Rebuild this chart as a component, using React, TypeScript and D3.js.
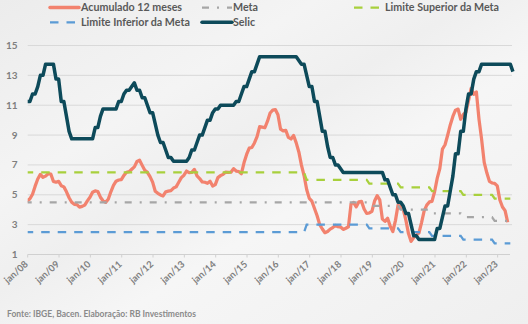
import React from "react";
import * as d3 from "d3";

const W = 528;
const H = 324;

// IPCA acumulado 12 meses, monthly from jan/2008 to jun/2023
const ipca12m = [
  4.56, 4.61, 4.73, 5.04, 5.58, 6.06, 6.37, 6.17, 6.25, 6.41, 6.39, 5.9,
  5.84, 5.9, 5.61, 5.53, 5.2, 4.8, 4.5, 4.36, 4.34, 4.17, 4.22, 4.31,
  4.59, 4.83, 5.17, 5.26, 5.22, 4.84, 4.6, 4.49, 4.7, 5.2, 5.63, 5.91,
  5.99, 6.01, 6.3, 6.51, 6.55, 6.71, 6.87, 7.23, 7.31, 6.97, 6.64, 6.5,
  6.22, 5.85, 5.24, 5.1, 4.99, 4.92, 5.2, 5.24, 5.28, 5.45, 5.53, 5.84,
  6.15, 6.31, 6.59, 6.49, 6.5, 6.7, 6.27, 6.09, 5.86, 5.84, 5.77, 5.91,
  5.59, 5.68, 6.15, 6.28, 6.37, 6.52, 6.5, 6.51, 6.75, 6.59, 6.56, 6.41,
  7.14, 7.7, 8.13, 8.17, 8.47, 8.89, 9.56, 9.53, 9.49, 9.93, 10.48, 10.67,
  10.71, 10.36, 9.39, 9.28, 9.32, 8.84, 8.74, 8.97, 8.48, 7.87, 6.99, 6.29,
  5.35, 4.76, 4.57, 4.08, 3.6, 3.0, 2.71, 2.46, 2.54, 2.7, 2.8, 2.95,
  2.86, 2.84, 2.68, 2.76, 2.86, 4.39, 4.48, 4.19, 4.53, 4.56, 4.05, 3.75,
  3.78, 3.89, 4.58, 4.94, 4.66, 3.37, 3.22, 3.43, 2.89, 2.54, 3.27, 4.31,
  4.19, 4.01, 3.3, 2.4, 1.88, 2.13, 2.31, 2.44, 3.14, 3.92, 4.31, 4.52,
  4.56, 5.2, 6.1, 6.76, 8.06, 8.35, 8.99, 9.68, 10.25, 10.67, 10.74, 10.06,
  10.38, 10.54, 11.3, 12.13, 11.73, 11.89, 10.07, 8.73, 7.17, 6.47, 5.9, 5.79,
  5.77, 5.6, 4.65, 4.18, 3.94, 3.16,
];

// Selic, monthly from jan/2008 to ago/2023
const selic = [
  11.25, 11.25, 11.25, 11.75, 11.75, 12.25, 13.0, 13.0, 13.75, 13.75, 13.75, 13.75,
  12.75, 12.75, 11.25, 11.25, 10.25, 9.25, 8.75, 8.75, 8.75, 8.75, 8.75, 8.75,
  8.75, 8.75, 8.75, 9.5, 9.5, 10.25, 10.75, 10.75, 10.75, 10.75, 10.75, 10.75,
  11.25, 11.25, 11.75, 12.0, 12.0, 12.25, 12.5, 12.0, 12.0, 11.5, 11.5, 11.0,
  10.5, 10.5, 9.75, 9.0, 8.5, 8.5, 8.0, 7.5, 7.5, 7.25, 7.25, 7.25,
  7.25, 7.25, 7.25, 7.5, 8.0, 8.0, 8.5, 9.0, 9.0, 9.5, 10.0, 10.0,
  10.5, 10.75, 10.75, 11.0, 11.0, 11.0, 11.0, 11.0, 11.0, 11.25, 11.25, 11.75,
  12.25, 12.25, 12.75, 13.25, 13.25, 13.75, 14.25, 14.25, 14.25, 14.25, 14.25, 14.25,
  14.25, 14.25, 14.25, 14.25, 14.25, 14.25, 14.25, 14.25, 14.25, 14.0, 13.75, 13.75,
  13.0, 12.25, 12.25, 11.25, 11.25, 10.25, 9.25, 9.25, 8.25, 7.5, 7.5, 7.0,
  7.0, 6.75, 6.5, 6.5, 6.5, 6.5, 6.5, 6.5, 6.5, 6.5, 6.5, 6.5,
  6.5, 6.5, 6.5, 6.5, 6.5, 6.5, 6.0, 6.0, 5.5, 5.0, 5.0, 4.5,
  4.5, 4.25, 3.75, 3.75, 3.0, 2.25, 2.25, 2.0, 2.0, 2.0, 2.0, 2.0,
  2.0, 2.0, 2.75, 2.75, 3.5, 4.25, 4.25, 5.25, 6.25, 7.75, 7.75, 9.25,
  9.25, 10.75, 11.75, 11.75, 12.75, 13.25, 13.25, 13.75, 13.75, 13.75, 13.75, 13.75,
  13.75, 13.75, 13.75, 13.75, 13.75, 13.75, 13.75, 13.25,
];

// Inflation targets by year
const targetYears = [2008, 2009, 2010, 2011, 2012, 2013, 2014, 2015, 2016, 2017, 2018, 2019, 2020, 2021, 2022, 2023];
const metaCentral = [4.5, 4.5, 4.5, 4.5, 4.5, 4.5, 4.5, 4.5, 4.5, 4.5, 4.5, 4.25, 4.0, 3.75, 3.5, 3.25];
const metaUpper = [6.5, 6.5, 6.5, 6.5, 6.5, 6.5, 6.5, 6.5, 6.5, 6.0, 6.0, 5.75, 5.5, 5.25, 5.0, 4.75];
const metaLower = [2.5, 2.5, 2.5, 2.5, 2.5, 2.5, 2.5, 2.5, 2.5, 3.0, 3.0, 2.75, 2.5, 2.25, 2.0, 1.75];

const yTicks = [1, 3, 5, 7, 9, 11, 13, 15];
const xTickLabels = ["jan/08", "jan/09", "jan/10", "jan/11", "jan/12", "jan/13", "jan/14", "jan/15", "jan/16", "jan/17", "jan/18", "jan/19", "jan/20", "jan/21", "jan/22", "jan/23"];

const C_IPCA = "#F2826E";
const C_SELIC = "#0D4A5A";
const C_META = "#A6A6A6";
const C_UP = "#A8D03C";
const C_LOW = "#5B9BD5";
const FONT = "Lato, 'Open Sans', sans-serif";

export default function App() {
  const plotLeft = 27.7;
  const plotRight = 512;
  const monthW = 2.6108;
  const x0 = 24.7;
  const x = d3.scaleLinear().domain([0, 1]).range([x0, x0 + monthW]);
  const y = d3.scaleLinear().domain([1, 15]).range([254.5, 45.5]);
  const tickShift = (plotLeft - x0) / monthW;

  const line = d3
    .line<number>()
    .x((_, i) => x(i))
    .y((d) => y(d))
    .curve(d3.curveLinear);

  const endIdx = 186;
  // each yearly target held from january to december; Dec->Jan drawn as a one-month slope like the monthly source
  const targetLine = (vals: number[]) => {
    const pts: [number, number][] = [];
    targetYears.forEach((yr, i) => {
      const m0 = (yr - targetYears[0]) * 12;
      const m1 = Math.min(m0 + 11, endIdx);
      pts.push([m0, vals[i]]);
      pts.push([i === targetYears.length - 1 ? endIdx : m1, vals[i]]);
    });
    return d3
      .line<[number, number]>()
      .x((d) => x(d[0]))
      .y((d) => y(d[1]))(pts) as string;
  };

  const metaDash = "7,8,2,8";
  const limDash = "8.5,8";

  return (
    <svg width={W} height={H} style={{ position: "absolute", left: 0, top: 0 }} fontFamily={FONT}>
      <defs>
        <linearGradient id="bg" x1="0" y1="0" x2="1" y2="1">
          <stop offset="0" stopColor="#ececec" />
          <stop offset="0.3" stopColor="#f4f4f4" />
          <stop offset="0.45" stopColor="#efefef" />
          <stop offset="0.6" stopColor="#f6f6f6" />
          <stop offset="1" stopColor="#efefef" />
        </linearGradient>
        <clipPath id="plotClip">
          <rect x={plotLeft} y={30} width={plotRight - plotLeft + 4} height={240} />
        </clipPath>
      </defs>
      <rect x={0} y={0} width={W} height={H} fill="url(#bg)" />

      {/* gridlines */}
      {yTicks.map((t) => (
        <line
          key={t}
          x1={plotLeft}
          x2={t === 1 ? 510 : plotRight}
          y1={y(t)}
          y2={y(t)}
          stroke={t === 1 ? "#d0d0d0" : "#d9d9d9"}
          strokeWidth={1}
        />
      ))}
      {xTickLabels.map((lab, k) => {
        const tx = x(12 * k + tickShift);
        return <line key={lab} x1={tx} x2={tx} y1={y(1)} y2={y(1) + 3} stroke="#d0d0d0" strokeWidth={1} />;
      })}

      {/* y labels */}
      {yTicks.map((t) => (
        <text key={t} x={17.5} y={y(t)} dy="0.35em" textAnchor="end" fontSize={10} fontWeight={700} fill="#7f7f7f">
          {t}
        </text>
      ))}

      {/* x labels */}
      {xTickLabels.map((lab, k) => {
        const tx = x(12 * k + tickShift) + 1;
        const ty = 265;
        return (
          <text key={lab} x={tx} y={ty} textAnchor="end" fontSize={9.5} fontWeight={700} fill="#7f7f7f" transform={`rotate(-42 ${tx} ${ty})`}>
            {lab}
          </text>
        );
      })}

      <g clipPath="url(#plotClip)" fill="none">
        <path d={line(ipca12m) as string} stroke={C_IPCA} strokeWidth={3.25} strokeLinejoin="round" />
        <path d={targetLine(metaCentral)} stroke={C_META} strokeWidth={2.25} strokeDasharray={metaDash} />
        <path d={targetLine(metaUpper)} stroke={C_UP} strokeWidth={2.25} strokeDasharray={limDash} />
        <path d={targetLine(metaLower)} stroke={C_LOW} strokeWidth={2.25} strokeDasharray={limDash} />
        <path d={line(selic) as string} stroke={C_SELIC} strokeWidth={3.5} strokeLinejoin="round" />
      </g>

      {/* legend */}
      <g fontSize={10.7} fontWeight={700} fill="#595959">
        <line x1={50} x2={79} y1={7.5} y2={7.5} stroke={C_IPCA} strokeWidth={3.5} strokeLinecap="round" />
        <text x={81} y={11.2}>Acumulado 12 meses</text>
        <line x1={202} x2={232} y1={7.5} y2={7.5} stroke={C_META} strokeWidth={2.25} strokeDasharray={metaDash} />
        <text x={233} y={11.2}>Meta</text>
        <line x1={354} x2={380} y1={7.5} y2={7.5} stroke={C_UP} strokeWidth={2.25} strokeDasharray={limDash} />
        <text x={385} y={11.2}>Limite Superior da Meta</text>
        <line x1={50} x2={76} y1={22.3} y2={22.3} stroke={C_LOW} strokeWidth={2.25} strokeDasharray={limDash} />
        <text x={81} y={26}>Limite Inferior da Meta</text>
        <line x1={202} x2={232} y1={22.3} y2={22.3} stroke={C_SELIC} strokeWidth={3.5} strokeLinecap="round" />
        <text x={233} y={26}>Selic</text>
      </g>

      <text x={7} y={317} fontSize={8.5} fontWeight={700} fill="#8a8a8a">
        Fonte: IBGE, Bacen. Elaboração: RB Investimentos
      </text>
    </svg>
  );
}
